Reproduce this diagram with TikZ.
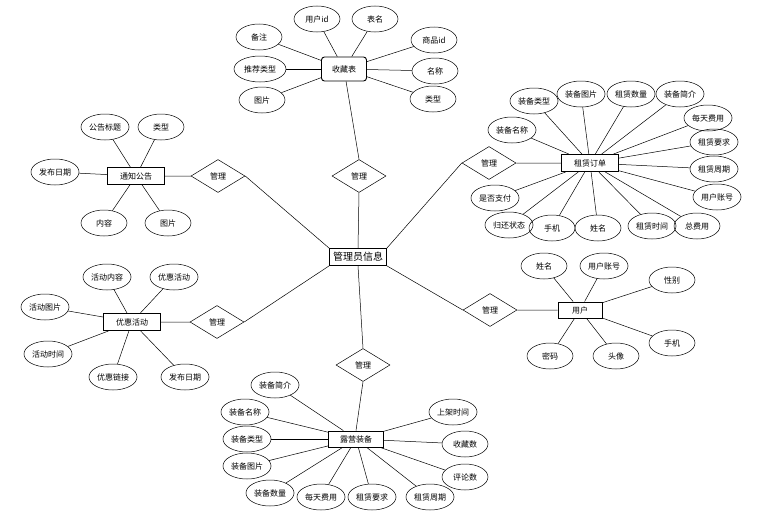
\documentclass[tikz,border=0pt]{standalone}
\usepackage{fontspec}
\newfontfamily\cjk{Noto Sans CJK SC}
\usetikzlibrary{shapes.geometric}

\begin{document}
\begin{tikzpicture}[x=1pt,y=-1pt,line width=0.5pt,
    attr/.style={ellipse,draw,minimum width=46pt,minimum height=26pt,inner sep=1pt,
                 font=\cjk\fontsize{8}{9}\selectfont},
    entity/.style={rectangle,draw,line width=0.9pt,minimum width=57pt,minimum height=17pt,
                   inner sep=1pt,font=\cjk\fontsize{8}{9}\selectfont},
    rel/.style={diamond,draw,aspect=1.6,minimum width=54pt,minimum height=33pt,inner sep=0pt,
                font=\cjk\fontsize{8}{9}\selectfont}]

  \useasboundingbox (0,0) rectangle (774,514);

  % centre and relations
  \node[entity,line width=0.6pt,font=\cjk\fontsize{10}{12}\selectfont] (admin) at (358,257) {管理员信息};
  \node[rel] (m1) at (359,176) {管理};
  \node[rel] (m2) at (489,163) {管理};
  \node[rel] (m3) at (218,176) {管理};
  \node[rel] (m4) at (217,322) {管理};
  \node[rel] (m5) at (490,310) {管理};
  \node[rel] (m6) at (363,365) {管理};

  % entities
  \node[entity,rounded corners=3pt,minimum width=45pt,minimum height=24pt] (fav) at (344,69) {收藏表};
  \node[entity] (order) at (590,163) {租赁订单};
  \node[entity] (notice) at (136,176) {通知公告};
  \node[entity] (promo) at (132,322) {优惠活动};
  \node[entity,minimum width=44pt,minimum height=16pt] (user) at (580,310) {用户};
  \node[entity,minimum width=55pt,minimum height=16pt] (gear) at (356,439) {露营装备};

  \path[draw] (fav) -- (m1.north)  (m1.south) -- (admin.north)
              (admin.north east) -- (m2.west)  (m2.east) -- (order.west)
              (admin.north west) -- (m3.east)  (m3.west) -- (notice.east)
              (admin.south west) -- (m4.east)  (m4.west) -- (promo.east)
              (admin.south east) -- (m5.west)  (m5.east) -- (user.west)
              (admin.south) -- (m6.north)  (m6.south) -- (gear.north);

  % 收藏表
  \node[attr] (f1) at (317,19) {用户id};
  \node[attr] (f2) at (375,19) {表名};
  \node[attr] (f3) at (259,37) {备注};
  \node[attr,minimum width=52pt] (f4) at (260,69) {推荐类型};
  \node[attr] (f5) at (262,100) {图片};
  \node[attr] (f6) at (434,40) {商品id};
  \node[attr] (f7) at (435,71) {名称};
  \node[attr] (f8) at (433,99) {类型};
  \foreach \a in {f1,f2,f3,f4,f5,f6,f7,f8} \draw (\a) -- (fav);

  % 租赁订单
  \node[attr] (o1) at (512,130) {装备名称};
  \node[attr] (o2) at (534,101) {装备类型};
  \node[attr] (o3) at (581,94) {装备图片};
  \node[attr] (o4) at (631,94) {租赁数量};
  \node[attr] (o5) at (680,94) {装备简介};
  \node[attr] (o6) at (708,118) {每天费用};
  \node[attr] (o7) at (714,142) {租赁要求};
  \node[attr] (o8) at (714,169) {租赁周期};
  \node[attr] (o9) at (717,197) {用户账号};
  \node[attr] (o10) at (697,226) {总费用};
  \node[attr] (o11) at (652,226) {租赁时间};
  \node[attr] (o12) at (598,228) {姓名};
  \node[attr] (o13) at (552,228) {手机};
  \node[attr] (o14) at (509,225) {归还状态};
  \node[attr] (o15) at (495,198) {是否支付};
  \foreach \a in {o1,o2,o3,o4,o5,o6,o7,o8,o9,o10,o11,o12,o13,o14,o15} \draw (\a) -- (order);

  % 通知公告
  \node[attr] (n1) at (105,127) {公告标题};
  \node[attr] (n2) at (161,127) {类型};
  \node[attr] (n3) at (55,172) {发布日期};
  \node[attr] (n4) at (104,223) {内容};
  \node[attr] (n5) at (168,223) {图片};
  \foreach \a in {n1,n2,n3,n4,n5} \draw (\a) -- (notice);

  % 优惠活动
  \node[attr] (p1) at (107,277) {活动内容};
  \node[attr] (p2) at (174,277) {优惠活动};
  \node[attr] (p3) at (45,307) {活动图片};
  \node[attr] (p4) at (48,354) {活动时间};
  \node[attr] (p5) at (113,377) {优惠链接};
  \node[attr] (p6) at (185,377) {发布日期};
  \foreach \a in {p1,p2,p3,p4,p5,p6} \draw (\a) -- (promo);

  % 用户
  \node[attr] (u1) at (544,266) {姓名};
  \node[attr] (u2) at (604,266) {用户账号};
  \node[attr] (u3) at (672,280) {性别};
  \node[attr] (u4) at (672,343) {手机};
  \node[attr] (u5) at (616,356) {头像};
  \node[attr] (u6) at (550,356) {密码};
  \foreach \a in {u1,u2,u3,u4,u5,u6} \draw (\a) -- (user);

  % 露营装备
  \node[attr] (g1) at (275,385) {装备简介};
  \node[attr] (g2) at (245,412) {装备名称};
  \node[attr] (g3) at (247,439) {装备类型};
  \node[attr] (g4) at (247,466) {装备图片};
  \node[attr] (g5) at (270,493) {装备数量};
  \node[attr] (g6) at (321,497) {每天费用};
  \node[attr] (g7) at (372,497) {租赁要求};
  \node[attr] (g8) at (430,497) {租赁周期};
  \node[attr] (g9) at (465,477) {评论数};
  \node[attr] (g10) at (465,444) {收藏数};
  \node[attr] (g11) at (453,412) {上架时间};
  \foreach \a in {g1,g2,g3,g4,g5,g6,g7,g8,g9,g10,g11} \draw (\a) -- (gear);
\end{tikzpicture}
\end{document}
